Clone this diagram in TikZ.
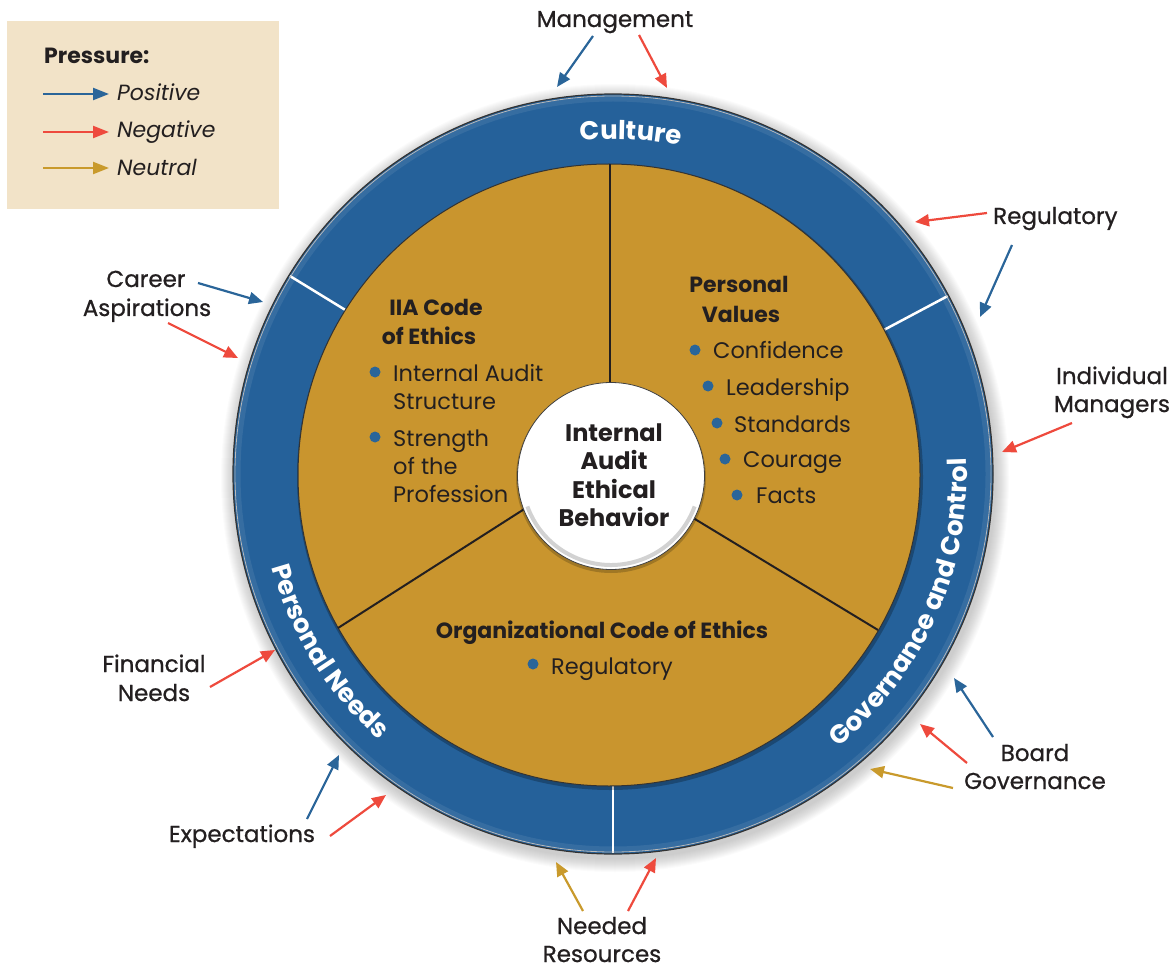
\documentclass[tikz,border=0pt]{standalone}
\usepackage{fontspec}
\setmainfont{Poppins}
\newfontfamily\medfont[FakeBold=0.8]{Poppins}
\usetikzlibrary{arrows.meta,decorations.text,calc}
\definecolor{ringblue}{HTML}{25619A}
\definecolor{goldfill}{HTML}{C9952E}
\definecolor{legendbg}{HTML}{F2E3C8}
\definecolor{posblue}{HTML}{2A6599}
\definecolor{negred}{HTML}{EE4A3D}
\definecolor{neutgold}{HTML}{C99A2C}
\definecolor{txt}{HTML}{231F20}
\definecolor{dotblue}{HTML}{2A6599}
\newcommand{\ringfont}{\bfseries\fontsize{26}{30}\selectfont\color{white}}
\begin{document}
\begin{tikzpicture}[x=1pt,y=1pt,
  lbl/.style={text=txt,font=\medfont\fontsize{23}{29}\selectfont,inner sep=0pt,anchor=base},
  bodytxt/.style={text=txt,font=\fontsize{22.5}{28}\selectfont,inner sep=0pt,anchor=base west},
  headtxt/.style={text=txt,font=\bfseries\fontsize{22}{28}\selectfont,inner sep=0pt,anchor=base},
  hubtxt/.style={text=txt,font=\bfseries\fontsize{24}{28}\selectfont,inner sep=0pt,anchor=base},
  legtxt/.style={text=txt,font=\itshape\fontsize{22}{28}\selectfont,inner sep=0pt,anchor=base west},
  arr/.style={line width=2.2pt,-{Triangle[length=14pt,width=12pt]}},
  posarr/.style={arr,draw=posblue},
  negarr/.style={arr,draw=negred},
  neuarr/.style={arr,draw=neutgold},
  ringtext/.style={decorate,decoration={text along path,text align=center,text={#1}}}
]
\useasboundingbox (0,0) rectangle (1175,-968);
\coordinate (O) at (613,-474);
\coordinate (G) at (609,-475);
\coordinate (W) at (611,-476);

% legend
\fill[legendbg] (7,-21) rectangle (279,-209);
\node[text=txt,font=\bfseries\fontsize{22}{28}\selectfont,inner sep=0pt,anchor=base west] (press) at (44,-64) {Pressure:};
\coordinate (lp1) at (43,-94);  \coordinate (lp2) at (109,-94);
\coordinate (ln1) at (43,-132); \coordinate (ln2) at (109,-132);
\coordinate (lu1) at (43,-168); \coordinate (lu2) at (109,-168);
\draw[posarr,-{Triangle[length=16pt,width=12pt]}] (lp1) -- (lp2);
\draw[negarr,-{Triangle[length=16pt,width=12pt]}] (ln1) -- (ln2);
\draw[neuarr,-{Triangle[length=16pt,width=12pt]}] (lu1) -- (lu2);
\node[legtxt] (lpos) at (117,-101) {Positive};
\node[legtxt] (lneg) at (117,-138) {Negative};
\node[legtxt] (lneu) at (117,-176) {Neutral};

% shadow
\foreach \i in {1,...,14} {\fill[black,opacity=0.016] ($(O)+(2,-4)$) circle[radius={380pt+\i*1pt}];}
% outer ring
\fill[ringblue] (O) circle[radius=380pt];
\draw[white,opacity=0.08,line width=5pt] (O) circle[radius=375pt];
% ring dividers
\draw[white,line width=2.5pt] ($(O)+(148.5:300pt)$) -- ($(O)+(148.5:379pt)$);
\draw[white,line width=2.5pt] ($(O)+(28:300pt)$) -- ($(O)+(28:379pt)$);
\draw[white,line width=2.5pt] ($(O)+(270:300pt)$) -- ($(O)+(270:379pt)$);
\draw[black!80,line width=1.2pt] (O) circle[radius=380pt];
\draw[gray!55,line width=0.8pt] (O) circle[radius=378pt];

% gold disc
\fill[black,opacity=0.25] ($(G)+(1,-2)$) circle[radius=313pt];
\fill[goldfill] (G) circle[radius=311pt];
\draw[black!80,line width=1pt] (G) circle[radius=311pt];
% gold dividers
\coordinate (dl1) at (338,-628); \coordinate (dl2) at (540,-499);
\coordinate (dr1) at (878,-630); \coordinate (dr2) at (680,-510);
\coordinate (dt1) at (610,-164); \coordinate (dt2) at (610,-400);
\draw[txt,line width=2pt] (dl1) -- (dl2);
\draw[txt,line width=2pt] (dr1) -- (dr2);
\draw[txt,line width=2pt] (dt1) -- (dt2);

% hub
\fill[black,opacity=0.2] ($(W)+(0,-2)$) circle[radius=95pt];
\fill[white] (W) circle[radius=93.5pt];
\draw[gray!35,line width=4pt] ($(W)+(200:89pt)$) arc[start angle=200,end angle=340,radius=89pt];
\draw[black!75,line width=0.8pt] (W) circle[radius=93.5pt];
\node[hubtxt] (h1) at (614,-441) {Internal};
\node[hubtxt] (h2) at (614,-469) {Audit};
\node[hubtxt] (h3) at (614,-498) {Ethical};
\node[hubtxt] (h4) at (614,-526) {Behavior};

% ring texts
\path[ringtext={|\ringfont|Culture}] ($(O)+(127:335pt)$) arc[start angle=127,end angle=47,radius=335pt];
\path[ringtext={|\ringfont|Governance and Control}] ($(O)+(-74:354pt)$) arc[start angle=-74,end angle=26,radius=354pt];
\path[ringtext={|\ringfont|Personal Needs}] ($(O)+(172:354pt)$) arc[start angle=172,end angle=252,radius=354pt];

% IIA code of ethics
\node[headtxt] (iia1) at (436,-316) {IIA Code};
\node[headtxt] (iia2) at (429,-344) {of Ethics};
\fill[dotblue] (375,-372) circle[radius=5.5pt];
\node[bodytxt] (iib1) at (393,-381) {Internal Audit};
\node[bodytxt] (iib2) at (393,-409) {Structure};
\fill[dotblue] (375,-437) circle[radius=5.5pt];
\node[bodytxt] (iib3) at (393,-446) {Strength};
\node[bodytxt] (iib4) at (393,-474) {of the};
\node[bodytxt] (iib5) at (393,-502) {Profession};

% personal values
\node[headtxt] (pv1) at (739,-293) {Personal};
\node[headtxt] (pv2) at (741,-322) {Values};
\fill[dotblue] (695,-350) circle[radius=5.5pt];
\node[bodytxt] (pvb1) at (713,-358) {Confidence};
\fill[dotblue] (708,-386) circle[radius=5.5pt];
\node[bodytxt] (pvb2) at (726,-395) {Leadership};
\fill[dotblue] (717,-423) circle[radius=5.5pt];
\node[bodytxt] (pvb3) at (734,-432) {Standards};
\fill[dotblue] (725,-459) circle[radius=5.5pt];
\node[bodytxt] (pvb4) at (743,-467) {Courage};
\fill[dotblue] (737,-495) circle[radius=5.5pt];
\node[bodytxt] (pvb5) at (756,-503) {Facts};

% organizational code
\node[headtxt] (oc1) at (602,-638) {Organizational Code of Ethics};
\fill[dotblue] (533,-664) circle[radius=5.5pt];
\node[bodytxt] (ocb1) at (551,-674) {Regulatory};

% outer labels
\node[lbl] (mg) at (615,-27) {Management};
\node[lbl,anchor=base west] (rg) at (993,-224) {Regulatory};
\node[lbl] (im1) at (1112,-384) {Individual};
\node[lbl] (im2) at (1112,-412) {Managers};
\node[lbl] (bg1) at (1035,-761) {Board};
\node[lbl] (bg2) at (1035,-789) {Governance};
\node[lbl] (nr1) at (602,-934) {Needed};
\node[lbl] (nr2) at (602,-962) {Resources};
\node[lbl] (ex) at (242,-842) {Expectations};
\node[lbl] (fn1) at (154,-672) {Financial};
\node[lbl] (fn2) at (154,-701) {Needs};
\node[lbl] (ca1) at (146,-287) {Career};
\node[lbl] (ca2) at (147,-316) {Aspirations};

% arrows
\coordinate (mgb1) at (593,-36);  \coordinate (mgb2) at (557,-87);
\coordinate (mgr1) at (639,-35);  \coordinate (mgr2) at (667,-88);
\coordinate (rgr1) at (987,-213); \coordinate (rgr2) at (915,-222);
\coordinate (rgb1) at (1012,-245);\coordinate (rgb2) at (980,-317);
\coordinate (imr1) at (1072,-423);\coordinate (imr2) at (1002,-452);
\coordinate (bgb1) at (993,-737); \coordinate (bgb2) at (954,-678);
\coordinate (bgr1) at (967,-763); \coordinate (bgr2) at (920,-724);
\coordinate (bgn1) at (953,-788); \coordinate (bgn2) at (870,-769);
\coordinate (nrn1) at (583,-911); \coordinate (nrn2) at (556,-862);
\coordinate (nrr1) at (628,-911); \coordinate (nrr2) at (656,-858);
\coordinate (exb1) at (307,-819); \coordinate (exb2) at (339,-755);
\coordinate (exr1) at (330,-836); \coordinate (exr2) at (386,-795);
\coordinate (fnr1) at (210,-687); \coordinate (fnr2) at (275,-650);
\coordinate (cab1) at (198,-283); \coordinate (cab2) at (263,-302);
\coordinate (car1) at (168,-323); \coordinate (car2) at (238,-358);
\draw[posarr] (mgb1) -- (mgb2);
\draw[negarr] (mgr1) -- (mgr2);
\draw[negarr] (rgr1) -- (rgr2);
\draw[posarr] (rgb1) -- (rgb2);
\draw[negarr] (imr1) -- (imr2);
\draw[posarr] (bgb1) -- (bgb2);
\draw[negarr] (bgr1) -- (bgr2);
\draw[neuarr] (bgn1) -- (bgn2);
\draw[neuarr] (nrn1) -- (nrn2);
\draw[negarr] (nrr1) -- (nrr2);
\draw[posarr] (exb1) -- (exb2);
\draw[negarr] (exr1) -- (exr2);
\draw[negarr] (fnr1) -- (fnr2);
\draw[posarr] (cab1) -- (cab2);
\draw[negarr] (car1) -- (car2);
\end{tikzpicture}
\end{document}
